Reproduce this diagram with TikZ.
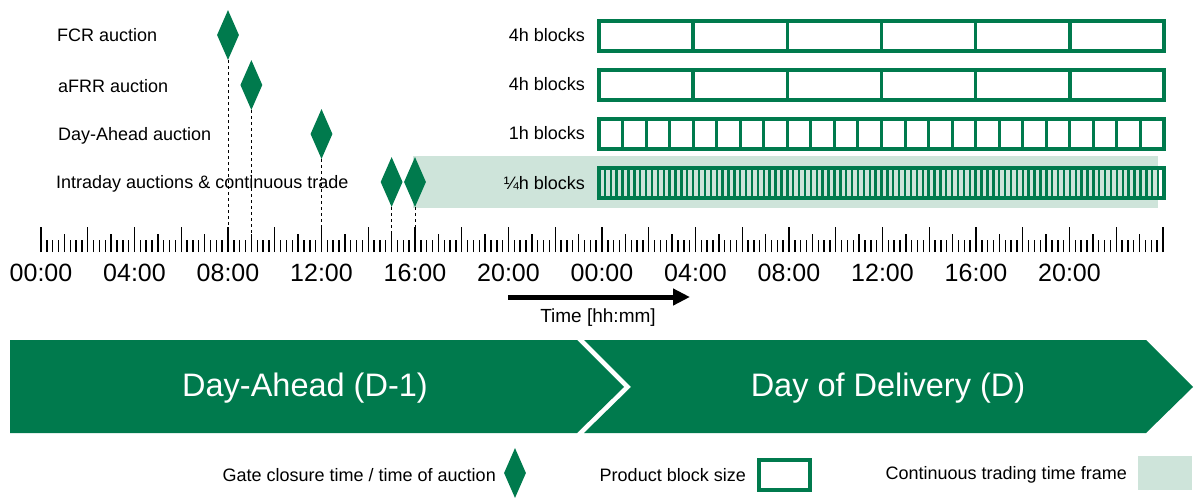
\documentclass[tikz,border=0pt]{standalone}
\usepackage{fontspec}
\setmainfont{Liberation Sans}
\usetikzlibrary{shapes.geometric,arrows.meta}

\definecolor{dgreen}{RGB}{0,122,77}
\definecolor{lgreen}{RGB}{206,228,218}

\begin{document}
\begin{tikzpicture}[x=1pt,y=-1pt,
	gate/.style={diamond,fill=dgreen,inner sep=0pt,minimum width=22pt,minimum height=50pt},
	blk/.style={draw=dgreen,line width=3.5pt},
	txt/.style={font=\fontsize{18}{21}\selectfont,inner sep=0pt},
	hrs/.style={font=\fontsize{25}{28}\selectfont,inner sep=0pt},
	big/.style={font=\fontsize{32.5}{36}\selectfont,text=white,inner sep=0pt},
	gcl/.style={dashed,line width=0.8pt}]

\useasboundingbox (0,0) rectangle (1195,498);

% continuous trading
\fill[lgreen] (413,156) rectangle (1158,208);

% markets
\node[txt,anchor=west] (fcr) at (57,35) {FCR auction};
\node[txt,anchor=west] (afrr) at (58,86) {aFRR auction};
\node[txt,anchor=west] (da) at (58,136) {Day-Ahead auction};
\node[txt,anchor=west] (id) at (56,184) {Intraday auctions \& continuous trade};

\node[txt,anchor=east] (bfcr) at (585,35) {4h blocks};
\node[txt,anchor=east] (bafrr) at (585,84) {4h blocks};
\node[txt,anchor=east] (bda) at (585,133) {1h blocks};
\node[txt,anchor=east] (bid) at (585,183) {¼h blocks};

% product blocks
\foreach \y in {21,70}{
	\draw[blk] (599,\y) rectangle (1164,\y+30);
	\foreach \i in {1,...,5}
		\draw[blk] ({599+565/6*\i},\y) -- ++(0,30);
}
\draw[blk] (599,119) rectangle (1164,149);
\foreach \i in {1,...,23}
	\draw[dgreen,line width=3pt] ({599+565/24*\i},119) -- ++(0,30);
\draw[blk] (599,168) rectangle (1164,198);
\foreach \i in {1,...,95}
	\draw[dgreen,line width=2.4pt] ({599+565/96*\i},168) -- ++(0,30);

% time axis
\foreach \i in {0,...,192}{
	\pgfmathsetmacro\tl{mod(\i,8)==0 ? 25 : (mod(\i,4)==0 ? 18 : 12)}
	\draw[line width=1.4pt] ({41+23.375*\i/4},252) -- ++(0,-\tl);
}
\foreach \h [count=\k from 0] in {00:00,04:00,08:00,12:00,16:00,20:00,00:00,04:00,08:00,12:00,16:00,20:00}
	\node[hrs] (hr\k) at ({41+93.5*\k},273) {\h};

% gate closures
\node[gate] (gfcr) at ({41+23.375*8},35) {};
\node[gate] (gafrr) at ({41+23.375*9},85) {};
\node[gate] (gda) at ({41+23.375*12},134) {};
\node[gate] (gida) at ({41+23.375*15},182) {};
\node[gate] (gidb) at ({41+23.375*16},182) {};
\foreach \g/\t in {fcr/8,afrr/9,da/12,ida/15,idb/16}{
	\coordinate (a\g) at ({41+23.375*\t},250);
	\draw[gcl] (g\g.south) -- (a\g);
}

% time arrow
\coordinate (ts) at (508,297);
\coordinate (te) at (690,297);
\draw[line width=5pt,-{Triangle[length=17pt,width=16pt]}] (ts) -- (te);
\node[font=\fontsize{19}{22}\selectfont,inner sep=0pt] (tlab) at (598,318) {Time [hh:mm]};

% days
\fill[dgreen] (10,340) -- (577,340) -- (624,387) -- (577,433) -- (10,433) -- cycle;
\fill[dgreen] (584,340) -- (1146,340) -- (1193,387) -- (1146,433) -- (584,433) -- (631,387) -- cycle;
\node[big] (dayah) at (305,388) {Day-Ahead (D-1)};
\node[big] (dayd) at (888,388) {Day of Delivery (D)};

% legend
\node[txt,anchor=east] (lgate) at (496,475) {Gate closure time / time of auction};
\node[gate] (kgate) at (515,473) {};
\node[txt,anchor=east] (lblk) at (746,475) {Product block size};
\draw[blk] (759,460) rectangle (810,490);
\node[txt,anchor=east] (lcont) at (1127,475) {Continuous trading time frame};
\fill[lgreen] (1138,456) rectangle (1192,490);

\end{tikzpicture}
\end{document}
